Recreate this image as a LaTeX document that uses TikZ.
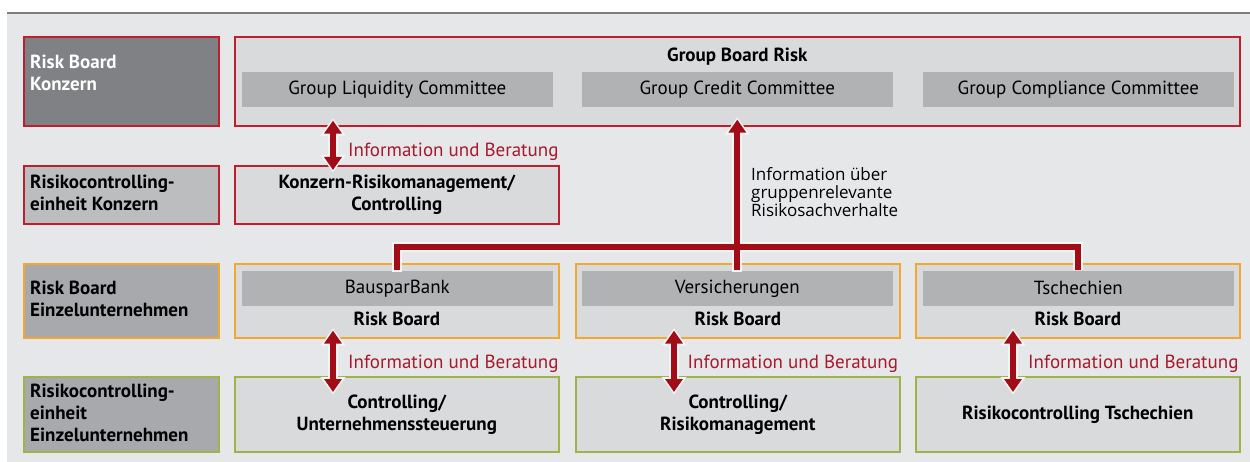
\documentclass[tikz,border=0pt]{standalone}
\usepackage{fontspec}
\setmainfont{PT Sans}
\newfontfamily\notefont{Open Sans}
\usetikzlibrary{arrows.meta,calc}

\definecolor{pagebg}{HTML}{E6E7E8}
\definecolor{rule}{HTML}{7F7F7F}
\definecolor{panel}{HTML}{D9DADB}
\definecolor{head}{HTML}{B1B2B4}
\definecolor{darkbox}{HTML}{808184}
\definecolor{midbox}{HTML}{BCBDBF}
\definecolor{greybox}{HTML}{A7A9AC}
\definecolor{redline}{HTML}{BE1E2D}
\definecolor{orangeline}{HTML}{F0A830}
\definecolor{greenline}{HTML}{A0B24A}
\definecolor{arrowred}{HTML}{A20C16}
\definecolor{labelred}{HTML}{A6192E}
\definecolor{halo}{HTML}{F4F4F4}

\tikzset{
  box/.style={rectangle, inner sep=0pt, line width=1.6pt, anchor=north west, align=center},
  redbox/.style={box, draw=redline},
  orangebox/.style={box, draw=orangeline},
  greenbox/.style={box, draw=greenline},
  bold/.style={font=\fontsize{19}{22}\selectfont\bfseries},
  headbox/.style={box, fill=head, draw=none, minimum width=311pt, minimum height=35pt},
  sidetxt/.style={inner sep=0pt, anchor=base west, align=left, bold},
  infolabel/.style={inner sep=0pt, anchor=base west, text=labelred},
  conn/.style={draw=arrowred, line width=6pt},
  connhalo/.style={draw=halo, line width=10pt},
  tip/.tip={Triangle[width=17pt,length=13pt]},
  halotip/.tip={Triangle[width=24pt,length=17.5pt]},
  dbl/.style={conn, tip-tip},
  dblhalo/.style={connhalo, halotip-halotip, shorten <=-2.5pt, shorten >=-2.5pt},
}

\begin{document}
\begin{tikzpicture}[x=1pt, y=-1pt, font=\fontsize{19}{22}\selectfont]
  \useasboundingbox (0,0) rectangle (1250,462);

  % page background and top rule
  \fill[pagebg] (7,14) rectangle (1250,462);
  \draw[rule, line width=2pt] (7,13) -- (1250,13);

  % left column: level names (base anchor = last line)
  \node[redbox, fill=darkbox, minimum width=195pt, minimum height=89pt] (L1) at (23,36) {};
  \node[redbox, fill=midbox, minimum width=195pt, minimum height=58pt] (L2) at (23,165) {};
  \node[orangebox, fill=greybox, minimum width=195pt, minimum height=74pt] (L3) at (23,263) {};
  \node[greenbox, fill=greybox, minimum width=195pt, minimum height=75pt] (L4) at (23,376) {};

  \node[sidetxt, text=white] (L1t) at ([xshift=7pt]L1.west |- 0,90.7) {Risk Board\\Konzern};
  \node[sidetxt] (L2t) at ([xshift=7pt]L2.west |- 0,210.7) {Risikocontrolling-\\einheit Konzern};
  \node[sidetxt] (L3t) at ([xshift=7pt]L3.west |- 0,316.7) {Risk Board\\Einzelunternehmen};
  \node[sidetxt] (L4t) at ([xshift=7pt]L4.west |- 0,441.7) {Risikocontrolling-\\einheit\\Einzelunternehmen};

  % group level
  \node[redbox, fill=panel, minimum width=1005pt, minimum height=89pt] (grp) at (234,36) {};
  \node[inner sep=0pt, anchor=base, bold] (grpt) at (grp.north |- 0,61.5) {Group Board Risk};
  \node[headbox] (liq) at (241,71) {Group Liquidity Committee};
  \node[headbox] (cred) at (581,71) {Group Credit Committee};
  \node[headbox] (comp) at (922,71) {Group Compliance Committee};

  \node[redbox, fill=panel, minimum width=324pt, minimum height=58pt, bold] (krm) at (234,165) {Konzern-Risikomanagement/\\Controlling};

  % single entities: risk boards
  \node[orangebox, fill=panel, minimum width=324pt, minimum height=74pt] (rb1) at (234,263) {};
  \node[orangebox, fill=panel, minimum width=324pt, minimum height=74pt] (rb2) at (575,263) {};
  \node[orangebox, fill=panel, minimum width=324pt, minimum height=74pt] (rb3) at (915,263) {};
  \node[headbox] (bsp) at (241,270) {BausparBank};
  \node[headbox] (vers) at (581,270) {Versicherungen};
  \node[headbox] (tsch) at (922,270) {Tschechien};
  \node[inner sep=0pt, anchor=base, bold] (rb1t) at (rb1.center |- 0,325) {Risk Board};
  \node[inner sep=0pt, anchor=base, bold] (rb2t) at (rb2.center |- 0,325) {Risk Board};
  \node[inner sep=0pt, anchor=base, bold] (rb3t) at (rb3.center |- 0,325) {Risk Board};

  % single entities: controlling units
  \node[greenbox, fill=panel, minimum width=324pt, minimum height=75pt, bold] (ctl1) at (234,376) {Controlling/\\Unternehmenssteuerung};
  \node[greenbox, fill=panel, minimum width=324pt, minimum height=75pt, bold] (ctl2) at (575,376) {Controlling/\\Risikomanagement};
  \node[greenbox, fill=panel, minimum width=324pt, minimum height=75pt, bold] (ctl3) at (915,376) {Risikocontrolling Tschechien};

  % reporting tree towards the group board
  \coordinate (jn) at (737,247.5);
  \coordinate (a0) at (333,0);
  \coordinate (a1) at (333,0);
  \coordinate (a2) at (674,0);
  \coordinate (a3) at (1013,0);

  \draw[connhalo, shorten <=-2pt] (bsp.north) |- (jn) -| (tsch.north);
  \draw[connhalo, shorten <=-2pt, -halotip, shorten >=-2.5pt] (vers.north) -- ($(grp.south -| vers.north)+(0,-7)$);
  \draw[conn] (bsp.north) |- (jn) -| (tsch.north);
  \draw[conn, -tip] (vers.north) -- ($(grp.south -| vers.north)+(0,-7)$);

  % information and advice arrows
  \draw[dblhalo] ($(grp.south -| a0)+(0,-6)$) -- ($(krm.north -| a0)+(0,5)$);
  \draw[dbl] ($(grp.south -| a0)+(0,-6)$) -- ($(krm.north -| a0)+(0,5)$);
  \foreach \i in {1,2,3} {
    \draw[dblhalo] ($(rb\i.south -| a\i)+(0,-8)$) -- ($(ctl\i.north -| a\i)+(0,16)$);
    \draw[dbl] ($(rb\i.south -| a\i)+(0,-8)$) -- ($(ctl\i.north -| a\i)+(0,16)$);
  }

  \node[infolabel] (i0) at ($(a0 |- 0,156.5)+(15,0)$) {Information und Beratung};
  \node[infolabel] (i1) at ($(a1 |- 0,368.5)+(15,0)$) {Information und Beratung};
  \node[infolabel] (i2) at ($(a2 |- 0,368.5)+(13.5,0)$) {Information und Beratung};
  \node[infolabel] (i3) at ($(a3 |- 0,368.5)+(15,0)$) {Information und Beratung};

  \node[inner sep=0pt, anchor=base west, align=left, font=\notefont\fontsize{17}{18.2}\selectfont] (gl) at (751,217) {Information über\\gruppenrelevante\\Risikosachverhalte};
\end{tikzpicture}
\end{document}
